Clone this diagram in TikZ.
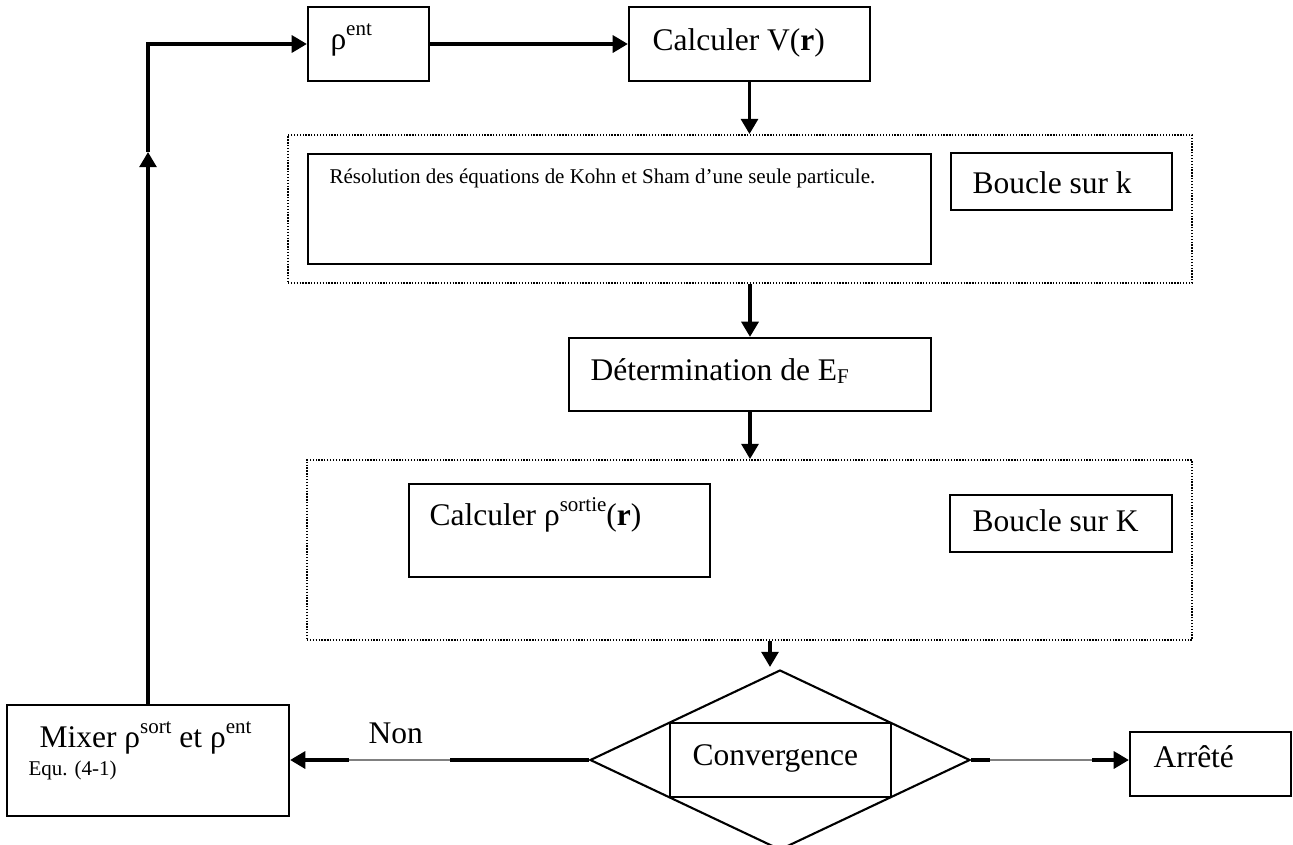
\documentclass[tikz,border=0pt]{standalone}
\usepackage{fontspec}
\setmainfont{Liberation Serif}
\usetikzlibrary{arrows.meta,shapes.geometric}

\newcommand{\pxu}{0.381pt}
\newcommand{\wsup}[1]{\raisebox{0.42em}{\fontsize{8}{8}\selectfont #1}}
\newcommand{\wsub}[1]{\raisebox{-0.12em}{\fontsize{8}{8}\selectfont #1}}

\begin{document}
\begin{tikzpicture}[x=0.381pt,y=-0.381pt,
    sz/.style 2 args={minimum width=#1*\pxu, minimum height=#2*\pxu},
    box/.style={draw, line width=0.8pt, inner sep=0pt},
    loopbox/.style={draw, line width=0.7pt, dash pattern=on 0.5pt off 0.6pt, inner sep=0pt},
    txt/.style={anchor=base west, inner sep=0pt, font=\fontsize{12}{14}\selectfont},
    small/.style={anchor=base west, inner sep=0pt, font=\fontsize{8}{9}\selectfont},
    line/.style={line width=1.4pt},
    flow/.style={line, -{Triangle[length=5.8pt,width=6.4pt]}},
    thinline/.style={line width=0.4pt, gray}]
    \useasboundingbox (0,0) rectangle (1293,845);

    % boxes
    \node[box, sz={121}{74}] (rho) at (368.5,44) {};
    \node[box, sz={241}{74}] (calcV) at (749.5,44) {};
    \node[loopbox, sz={904}{148}] (loopk) at (740,209) {};
    \node[box, sz={623}{110}] (kohn) at (619.5,209) {};
    \node[box, sz={221}{57}] (bouclek) at (1061.5,181.5) {};
    \node[box, sz={362}{73}] (fermi) at (750,374.5) {};
    \node[loopbox, sz={885}{180}] (loopK) at (749.5,550) {};
    \node[box, sz={301}{93}] (calcrho) at (559.5,530.5) {};
    \node[box, sz={222}{57}] (boucleK) at (1061,523.5) {};
    \node[box, diamond, sz={380}{180}] (dec) at (780,760) {};
    \node[box, sz={221}{74}] (conv) at (780.5,760) {};
    \node[box, sz={282}{111}] (mix) at (148,760.5) {};
    \node[box, sz={161}{64}] (stop) at (1210.5,764) {};

    % texts
    \node[txt] (trho) at (330,49) {ρ\wsup{ent}};
    \node[txt] (tcalcV) at (652,50) {Calculer V(\textbf{r})};
    \node[small] (tkohn) at (329,183) {Résolution des équations de Kohn et Sham d’une seule particule.};
    \node[txt] (tbouclek) at (972,193) {Boucle sur k};
    \node[txt] (tfermi) at (590,380) {Détermination de E\wsub{F}};
    \node[txt] (tcalcrho) at (429,525) {Calculer ρ\wsup{sortie}(\textbf{r})};
    \node[txt] (tboucleK) at (972,531) {Boucle sur K};
    \node[txt] (tconv) at (692,765) {Convergence};
    \node[txt] (tmix) at (39,747) {Mixer ρ\wsup{sort} et ρ\wsup{ent}};
    \node[small] (tequ) at (28,775) {Equ. (4-1)};
    \node[txt] (tnon) at (368,743) {Non};
    \node[txt] (tstop) at (1153,767) {Arrêté};

    % connectors
    \coordinate (up) at (148,152);
    \coordinate (convin) at (770,667);
    \coordinate (n1) at (450,760);
    \coordinate (n2) at (349,760);
    \coordinate (a1) at (990,760);
    \coordinate (a2) at (1092,760);

    \draw[flow] (rho.east) -- (calcV.west);
    \draw[flow] (calcV.south) -- (calcV.south |- loopk.north);
    \draw[flow] (fermi.north |- loopk.south) -- (fermi.north);
    \draw[flow] (fermi.south) -- (fermi.south |- loopK.north);
    \draw[flow] (convin |- loopK.south) -- (convin);
    \draw[line] (dec.west) -- (n1);
    \draw[thinline] (n1) -- (n2);
    \draw[flow] (n2) -- (n2 -| mix.east);
    \draw[line] (dec.east) -- (a1);
    \draw[thinline] (a1) -- (a2);
    \draw[flow] (a2) -- (a2 -| stop.west);
    \draw[flow] (mix.north) -- (up);
    \draw[flow] (up) |- (rho.west); % back to the start
\end{tikzpicture}
\end{document}
